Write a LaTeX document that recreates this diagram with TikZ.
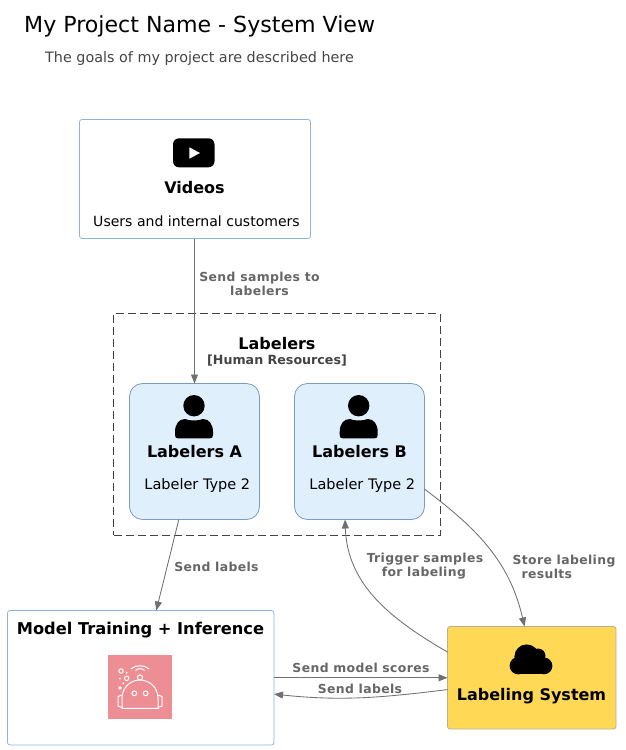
\documentclass[tikz,border=0pt]{standalone}
\usepackage{fontspec}
\usepackage{xcolor}
\setmainfont{DejaVu Sans}
\usetikzlibrary{arrows.meta}
\definecolor{boxline}{HTML}{8FB4DC}
\definecolor{personline}{HTML}{7A9CBF}
\definecolor{personfill}{HTML}{DFEFFB}
\definecolor{sysfill}{HTML}{FFD955}
\definecolor{sysline}{HTML}{B5B09A}
\definecolor{relline}{HTML}{707070}
\definecolor{reltext}{HTML}{666666}
\definecolor{subtext}{HTML}{444444}
\definecolor{robotfill}{HTML}{EC8E94}
\newcommand{\fsz}[1]{\fontsize{#1}{14}\selectfont}
\newcommand{\personicon}[1]{
    \fill (#1,405.7) circle (10.7);
    \fill (#1-19,432) .. controls (#1-19,424) and (#1-15,419) .. (#1-9,419)
        .. controls (#1-4,421) and (#1+4,421) .. (#1+9,419)
        .. controls (#1+15,419) and (#1+19,424) .. (#1+19,432) -- (#1+19,435)
        .. controls (#1+19,437.5) and (#1+18,438.3) .. (#1+16,438.3) -- (#1-16,438.3)
        .. controls (#1-18,438.3) and (#1-19,437.5) .. (#1-19,435) -- cycle;
}
\begin{document}
\begin{tikzpicture}[x=1pt,y=-1pt,
    softbox/.style={draw=boxline,fill=white,rounded corners=2.5pt,line width=0.8pt,inner sep=0pt,outer sep=0pt},
    personbox/.style={draw=personline,fill=personfill,rounded corners=13pt,line width=0.8pt,minimum width=130pt,minimum height=136pt,inner sep=0pt,outer sep=0pt},
    boxtitle/.style={font=\fsz{16}\bfseries,inner sep=0pt},
    boxtext/.style={font=\fsz{14.05},inner sep=0pt},
    reltitle/.style={font=\fsz{12.4}\bfseries\addfontfeature{LetterSpace=3},text=reltext,inner sep=0pt,align=center},
    rel/.style={draw=relline,line width=0.85pt,-{Triangle[length=9pt,width=7pt]}},
    robotline/.style={draw=white,line width=1pt}]
    \useasboundingbox (0,0) rectangle (625,750);

    \node[font=\fsz{22.1},inner sep=0pt,anchor=west] (title) at (24,26.5) {My Project Name - System View};
    \node[font=\fsz{14.35},text=subtext,inner sep=0pt,anchor=west] (goals) at (45,58.5) {The goals of my project are described here};

    \node[softbox,minimum width=231pt,minimum height=119pt] (videos) at (195,179) {};
    \node[draw=black!75,dashed,dash pattern=on 8pt off 4pt,line width=0.7pt,minimum width=326.5pt,minimum height=221.5pt,inner sep=0pt,outer sep=0pt] (labelers) at (276.75,424.25) {};
    \node[personbox] (laba) at (194.5,451.5) {};
    \node[personbox] (labb) at (359.5,451.5) {};
    \node[softbox,minimum width=266.5pt,minimum height=134.5pt] (model) at (140.75,677.75) {};
    \node[draw=sysline,fill=sysfill,rounded corners=2.5pt,line width=0.8pt,minimum width=168.5pt,minimum height=102.5pt,inner sep=0pt,outer sep=0pt] (labeling) at (531.75,677.75) {};

    \node[boxtitle] (videost) at (194.5,187.5) {Videos};
    \node[boxtext] (videosd) at (196.5,221) {Users and internal customers};
    \node[boxtitle] (labelerst) at (277,344) {Labelers};
    \node[font=\fsz{12.65}\bfseries,text=subtext,inner sep=0pt] (labelersd) at (277,361) {[Human Resources]};
    \node[boxtitle] (labat) at (194.5,452) {Labelers A};
    \node[font=\fsz{14.5},inner sep=0pt] (labad) at (197.3,485.5) {Labeler Type 2};
    \node[boxtitle] (labbt) at (359.5,452) {Labelers B};
    \node[font=\fsz{14.5},inner sep=0pt] (labbd) at (362.3,485.5) {Labeler Type 2};
    \node[font=\fsz{16.25}\bfseries,inner sep=0pt] (modelt) at (140.5,630.5) {Model Training + Inference};
    \node[boxtitle] (labelingt) at (531.5,696.5) {Labeling System};

    \draw[rel] (videos.south -| laba.north) -- (laba.north);
    \draw[rel] (laba.-103.6) -- (model.77.2);
    \draw[rel] (labb.-30) to[out=-37,in=103] (labeling.98.6);
    \draw[rel] (labeling.163) to[out=150,in=-88] (labb.-102.84);
    \draw[rel] (model.east) -- (labeling.west);
    \draw[rel] (labeling.188.9) to[out=187,in=-6] (model.-7.4);

    \node[reltitle] (rel1) at (259.5,283.5) {Send samples to\\labelers};
    \node[reltitle] (rel2) at (216.5,566.5) {Send labels};
    \node[reltitle,align=left] (rel3) at (425,566.5) {Trigger samples\\\hspace*{15pt}for labeling};
    \node[reltitle,align=left] (rel4) at (564,566.5) {Store labeling\\\hspace*{9pt}results};
    \node[reltitle] (rel5) at (361,668) {Send model scores};
    \node[reltitle] (rel6) at (360,689) {Send labels};

    \fill[rounded corners=6pt] (173,138.3) rectangle (214.5,167.3);
    \fill[white] (189.3,147.3) -- (200,153) -- (189.3,158.7) -- cycle;

    \personicon{194}
    \personicon{358.7}

    \fill (526.7,656.7) circle (12.3);
    \fill (538,656) circle (7.5);
    \fill (518.3,665.7) circle (8.7);
    \fill (544,665.9) circle (8.4);
    \fill (518.3,660) rectangle (544,674.3);

    \fill[robotfill] (108,655) rectangle (172,719);
    \begin{scope}[robotline]
    \draw (122,708.3) -- (122,698) arc (180:360:18) -- (158,708.3) -- cycle;
    \draw (122,695) -- (118,696.5) -- (118,706) -- (122,707.5);
    \draw (158,695) -- (162,696.5) -- (162,706) -- (158,707.5);
    \draw[fill=robotfill] (140,677.5) circle (2.6);
    \draw (134.3,693.3) circle (2.4);
    \draw (145.7,693.3) circle (2.4);
    \draw (135.5,670.5) arc (225:315:6.4);
    \draw (130.8,669) arc (230:310:14.3);
    \draw (121,671) circle (2.2);
    \draw (126.7,678.3) circle (2.2);
    \fill[white] (126.7,672.7) circle (1);
    \fill[white] (120,678.7) circle (1);
    \fill[white] (123.3,683.3) circle (1);
    \fill[white] (120,688) circle (1.8);
    \end{scope}

\end{tikzpicture}
\end{document}
